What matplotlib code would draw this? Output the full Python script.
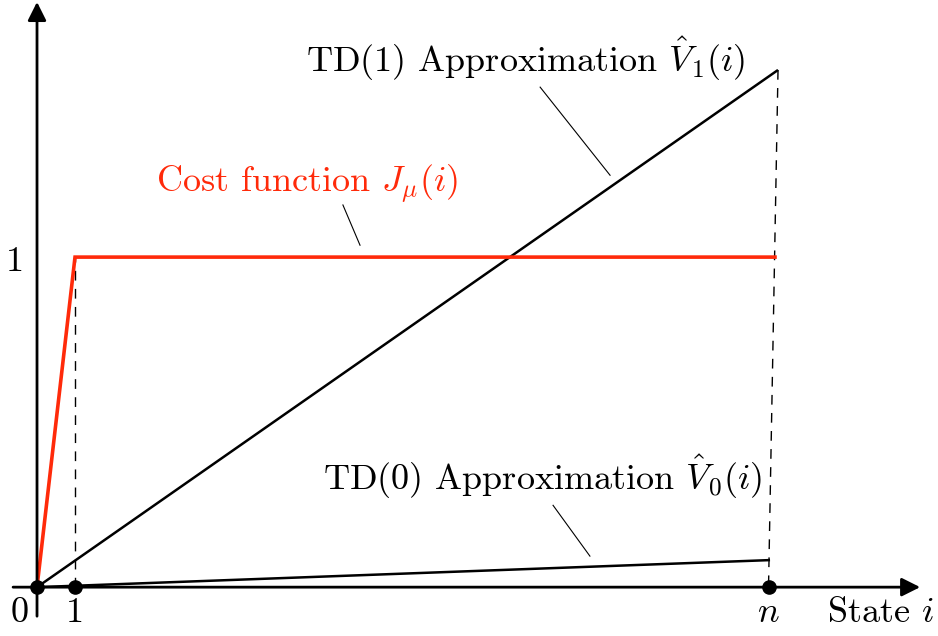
import matplotlib.pyplot as plt

plt.rcParams['font.family'] = 'serif'
plt.rcParams['font.serif'] = ['cmr10']
plt.rcParams['mathtext.fontset'] = 'cm'
plt.rcParams['axes.unicode_minus'] = False

# states and values (x in state units, y in cost units)
n_state = 19.25
cost_x = [0, 1, 19.42]
cost_y = [0, 1, 1]
td1_x = [0, 19.5]
td1_y = [0, 1.567]
td0_x = [0, 19.29]
td0_y = [0, 0.082]
dot_x = [0, 1, n_state]
dot_labels = ['0', '1', '$n$']

FS = 26

fig = plt.figure(figsize=(9.38, 6.36), dpi=100)
ax = fig.add_axes([0, 0, 1, 1])
ax.set_xlim(-0.974, 23.71)
ax.set_ylim(-0.148, 1.779)
ax.axis('off')

# axes with arrows
ax.annotate('', xy=(23.24, 0), xytext=(-0.63, 0),
            arrowprops=dict(arrowstyle='-|>', lw=2, color='k', mutation_scale=28,
                            shrinkA=0, shrinkB=0))
ax.annotate('', xy=(0, 1.773), xytext=(0, -0.088),
            arrowprops=dict(arrowstyle='-|>', lw=2, color='k', mutation_scale=28,
                            shrinkA=0, shrinkB=0))

# dashed guides
ax.plot([1, 1], [0, 1], ls=(0, (7, 6)), color='k', lw=1.0)
ax.plot([td1_x[1], n_state], [td1_y[1], 0], ls=(0, (7, 6)), color='k', lw=1.0)

# curves
ax.plot(td1_x, td1_y, color='k', lw=1.8, solid_capstyle='butt')
ax.plot(td0_x, td0_y, color='k', lw=1.8, solid_capstyle='butt')
ax.plot(cost_x, cost_y, color='#ff2a0a', lw=2.6, solid_joinstyle='miter')

ax.plot(dot_x, [0] * len(dot_x), 'o', color='k', ms=9.5, zorder=5)

# tick labels
ax.text(-0.45, -0.08, dot_labels[0], fontsize=FS, ha='center', va='center')
ax.text(1, -0.08, dot_labels[1], fontsize=FS, ha='center', va='center')
ax.text(n_state, -0.08, dot_labels[2], fontsize=FS, ha='center', va='center')
ax.text(22.2, -0.08, 'State $i$', fontsize=FS, ha='center', va='center')
ax.text(-0.58, 0.985, '1', fontsize=FS, ha='center', va='center')

# labels with leader lines
ax.text(12.85, 1.6, r'TD(1) Approximation $\hat{V}_1(i)$', fontsize=FS,
        ha='center', va='center')
ax.plot([13.24, 15.08], [1.515, 1.248], color='k', lw=0.8)

ax.text(7.1, 1.222, r'Cost function $J_\mu(i)$', fontsize=FS, color='#ff2a0a',
        ha='center', va='center')
ax.plot([8.05, 8.5], [1.158, 1.036], color='k', lw=0.8)

ax.text(13.3, 0.333, r'TD(0) Approximation $\hat{V}_0(i)$', fontsize=FS,
        ha='center', va='center')
ax.plot([13.58, 14.55], [0.248, 0.094], color='k', lw=0.8)

fig.savefig('out.png', dpi=100)
